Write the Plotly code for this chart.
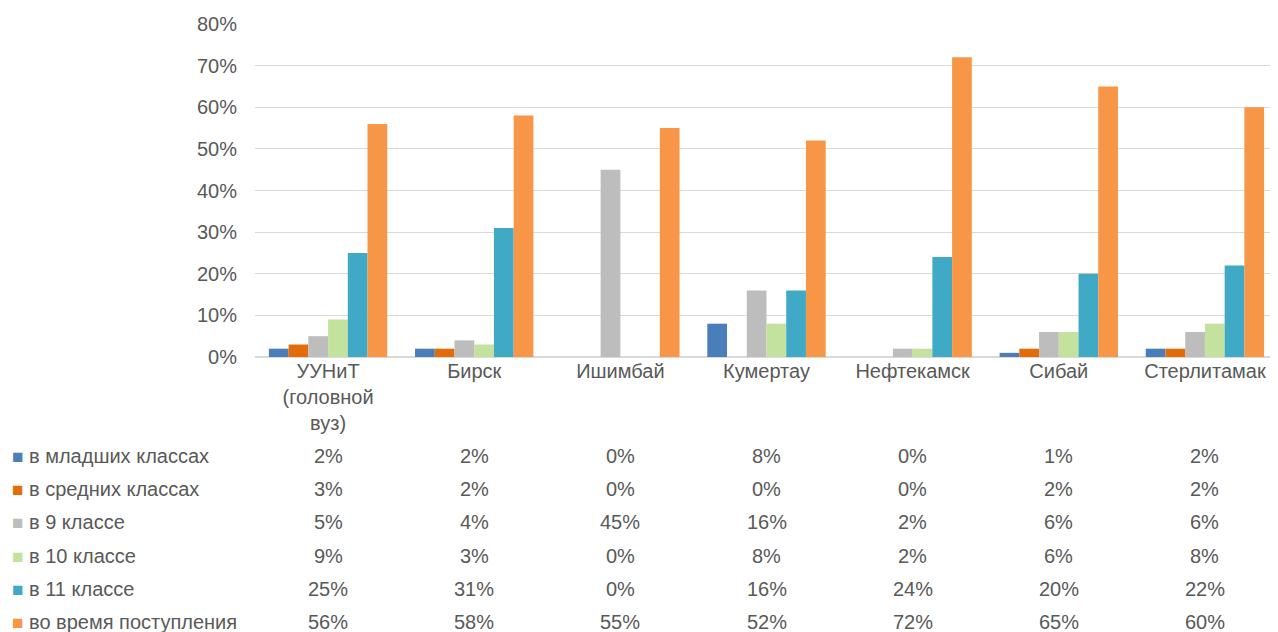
import plotly.graph_objects as go

города = ['УУНиТ (головной вуз)', 'Бирск', 'Ишимбай', 'Кумертау', 'Нефтекамск', 'Сибай', 'Стерлитамак']
подписи = ['УУНиТ<br>(головной<br>вуз)', 'Бирск', 'Ишимбай', 'Кумертау', 'Нефтекамск', 'Сибай', 'Стерлитамак']

серии = ['в младших классах', 'в средних классах', 'в 9 классе', 'в 10 классе', 'в 11 классе', 'во время поступления']
младшие = [2, 2, 0, 8, 0, 1, 2]
средние = [3, 2, 0, 0, 0, 2, 2]
класс9 = [5, 4, 45, 16, 2, 6, 6]
класс10 = [9, 3, 0, 8, 2, 6, 8]
класс11 = [25, 31, 0, 16, 24, 20, 22]
поступление = [56, 58, 55, 52, 72, 65, 60]
значения = [младшие, средние, класс9, класс10, класс11, поступление]

цвета = ['#4A7EBB', '#E36C0A', '#BDBDBD', '#C3E29E', '#3FA9C6', '#F79646']
шрифт = dict(size=20, color='#595959')

fig = go.Figure()
for имя, вал, цвет in zip(серии, значения, цвета):
    fig.add_trace(go.Bar(x=города, y=[v / 100 for v in вал], name=имя,
                         marker_color=цвет, marker_line_width=0))

# таблица данных под графиком (позиции в пикселях экрана -> доли области графика)
строки_y = [456, 489, 522, 556, 589, 622]
for имя, вал, цвет, yy in zip(серии, значения, цвета, строки_y):
    py = (357 - yy) / 333
    fig.add_annotation(x=(17 - 255) / 1023, y=py, xref='paper', yref='paper', xanchor='center', yanchor='middle',
                       text='■', showarrow=False, font=dict(size=19, color=цвет))
    fig.add_annotation(x=(27 - 255) / 1023, y=py, xref='paper', yref='paper', xanchor='left', yanchor='middle',
                       text=имя, showarrow=False, font=шрифт)
    for г, v in zip(города, вал):
        fig.add_annotation(x=г, y=py, xref='x', yref='paper', xanchor='center', yanchor='middle',
                           text=f'{v}%', showarrow=False, font=шрифт)

fig.update_layout(
    width=1270, height=624,
    margin=dict(l=247, r=0, t=16, b=275),
    paper_bgcolor='white', plot_bgcolor='white',
    barmode='group', bargap=0.19, bargroupgap=0,
    showlegend=False,
    font=dict(family='Liberation Sans, Arial, sans-serif', size=20, color='#595959'),
)
fig.update_yaxes(range=[0, 0.8], dtick=0.1, tickformat='.0%', gridcolor='#D9D9D9',
                 zeroline=True, zerolinecolor='#D9D9D9', ticks='', ticklabelstandoff=17,
                 tickfont=шрифт)
fig.update_xaxes(tickvals=города, ticktext=подписи, showline=False, ticks='',
                 tickfont=шрифт)

fig.write_html('out.html')
